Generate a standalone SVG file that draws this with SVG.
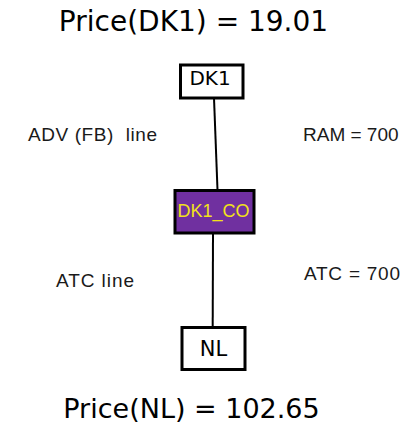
<svg xmlns="http://www.w3.org/2000/svg" width="408" height="425" viewBox="0 0 408 425">
<style>
.box{fill:#fff;stroke:#000;stroke-width:3}
.co{fill:#7030a0;stroke:#000;stroke-width:3}
.big{font-family:"DejaVu Sans",Verdana,sans-serif;fill:#000}
.lbl{font-family:"Liberation Sans",Arial,sans-serif;font-size:19px;fill:#1a1a1a;white-space:pre}
.edge{fill:none;stroke:#000;stroke-width:2}
</style>
<rect width="408" height="425" fill="#fff"/>
<text class="big" x="193.5" y="31" font-size="28" text-anchor="middle">Price(DK1) = 19.01</text>
<text class="big" x="191.5" y="418" font-size="27" text-anchor="middle">Price(NL) = 102.65</text>
<g id="connectors">
<path class="edge" d="M214,98 Q216,150 217.5,190"/>
<path class="edge" d="M213,233 L212.7,327"/>
</g>
<g id="DK1">
<rect class="box" x="180.5" y="65" width="62.5" height="33"/>
<text class="big" x="210" y="85" font-size="20" text-anchor="middle">DK1</text>
</g>
<g id="DK1_CO">
<rect class="co" x="175" y="190.5" width="79" height="42.5"/>
<text x="213.5" y="217" font-family="Liberation Sans,Arial,sans-serif" font-size="18" fill="#f2e21a" text-anchor="middle">DK1_CO</text>
</g>
<g id="NL">
<rect class="box" x="182" y="327.5" width="63" height="42"/>
<text class="big" x="213.5" y="356" font-size="21" text-anchor="middle">NL</text>
</g>
<text class="lbl" x="28" y="141" xml:space="preserve" textLength="129" lengthAdjust="spacing">ADV (FB)  line</text>
<text class="lbl" x="303" y="141" font-size="18">RAM = 700</text>
<text class="lbl" x="56" y="287" textLength="78" lengthAdjust="spacing">ATC line</text>
<text class="lbl" x="304" y="280" textLength="96" lengthAdjust="spacing">ATC = 700</text>
</svg>
